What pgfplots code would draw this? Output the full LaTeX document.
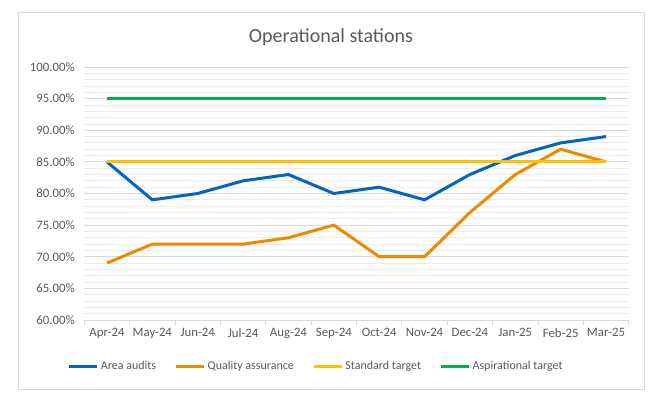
\documentclass[border=0pt]{standalone}
\usepackage{pgfplots}
\pgfplotsset{compat=1.18}
\usepackage{fontspec}
\setmainfont{Carlito}
\definecolor{txt}{HTML}{595959}
\definecolor{cblue}{HTML}{0563C1}
\definecolor{corange}{HTML}{EE8A00}
\definecolor{cyellow}{HTML}{FFC000}
\definecolor{cgreen}{HTML}{00B050}
\definecolor{gmaj}{HTML}{D9D9D9}
\definecolor{gmin}{HTML}{EBEBEB}
\begin{document}
\begin{tikzpicture}
\fill[white] (0pt,0pt) rectangle (657pt,398pt);
\draw[gmaj,line width=0.8pt] (18pt,9pt) rectangle (644pt,386pt);
\node[text=txt,font=\fontsize{20}{23}\selectfont] at (331pt,361pt) {Operational stations};
\begin{axis}[
  at={(84.3pt,78pt)}, anchor=south west,
  scale only axis, width=544.4pt, height=253pt,
  xmin=-0.5, xmax=11.5, ymin=60, ymax=100,
  xtick={0,...,11},
  xticklabels={Apr-24,May-24,Jun-24,Jul-24,Aug-24,Sep-24,Oct-24,Nov-24,Dec-24,Jan-25,Feb-25,Mar-25},
  minor xtick={-0.5,0.5,...,11.5},
  ytick={60,65,...,100},
  minor ytick={60,61,...,100},
  yticklabel={\pgfmathprintnumber[fixed,fixed zerofill,precision=2]{\tick}\%},
  /pgf/number format/assume math mode=true,
  axis x line*=bottom, axis y line*=left,
  x axis line style={-,gmaj,line width=0.8pt},
  y axis line style={draw=none},
  ymajorgrids, yminorgrids,
  major grid style={gmaj,line width=0.8pt},
  minor grid style={gmin,line width=0.8pt},
  tick align=outside,
  major tick length=0pt,
  minor tick length=5pt,
  minor x tick style={gmaj,line width=0.8pt},
  minor y tick style={draw=none},
  ticklabel style={text=txt,font=\fontsize{12.8}{15}\selectfont},
  yticklabel style={xshift=-6pt},
  xticklabel style={yshift=-5pt},
  legend columns=4,
  legend style={draw=none, fill=none, at={(axis description cs:-0.030,-0.182)}, anchor=west,
    inner sep=0pt, outer sep=0pt, font=\fontsize{12}{14}\selectfont, text=txt,
    /tikz/every even column/.append style={column sep=16.5pt}},
  legend image code/.code={\draw[#1,line width=3pt] (0pt,0pt) -- (28pt,0pt);},
  clip=false,
]
\addplot[cblue,line width=3pt] coordinates {(0,85)(1,79)(2,80)(3,82)(4,83)(5,80)(6,81)(7,79)(8,83)(9,86)(10,88)(11,89)};
\addlegendentry{Area audits}
\addplot[corange,line width=3pt] coordinates {(0,69)(1,72)(2,72)(3,72)(4,73)(5,75)(6,70)(7,70)(8,77)(9,83)(10,87)(11,85)};
\addlegendentry{Quality assurance}
\addplot[cyellow,line width=3pt] coordinates {(0,85)(1,85)(2,85)(3,85)(4,85)(5,85)(6,85)(7,85)(8,85)(9,85)(10,85)(11,85)};
\addlegendentry{Standard target}
\addplot[cgreen,line width=3pt] coordinates {(0,95)(1,95)(2,95)(3,95)(4,95)(5,95)(6,95)(7,95)(8,95)(9,95)(10,95)(11,95)};
\addlegendentry{Aspirational target}
\end{axis}
\end{tikzpicture}
\end{document}
